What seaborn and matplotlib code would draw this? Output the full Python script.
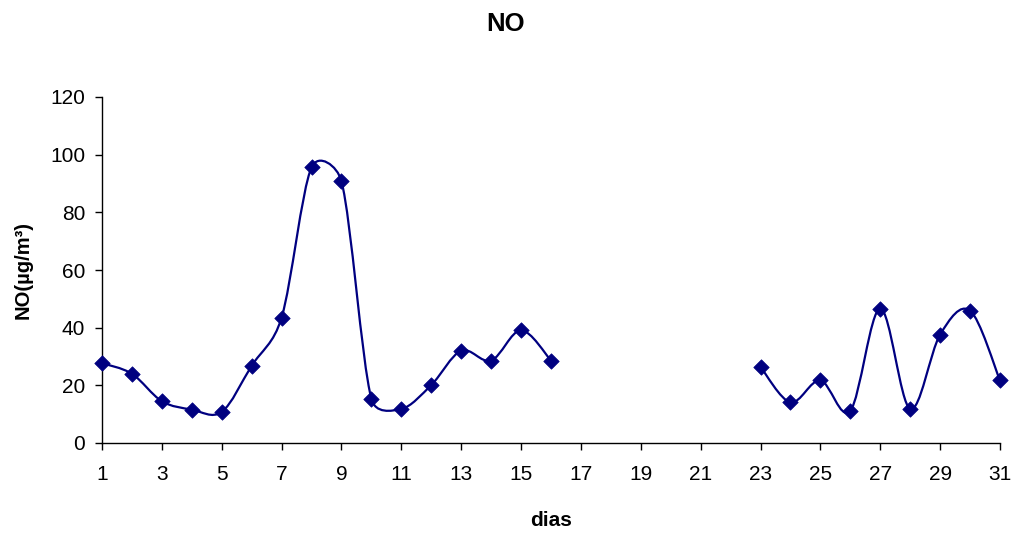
import numpy as np
import pandas as pd
import matplotlib
matplotlib.use("Agg")
import matplotlib.pyplot as plt
from matplotlib.path import Path
from matplotlib.patches import PathPatch
import seaborn as sns

# ---- data ----
days = list(range(1, 32))
no_values = [27.7, 24.0, 14.5, 11.6, 10.8, 26.8, 43.5, 95.6, 90.8, 15.3,
             11.8, 20.1, 32.0, 28.6, 39.1, 28.6,
             None, None, None, None, None, None,
             26.4, 14.1, 21.7, 11.2, 46.6, 11.8, 37.6, 45.9, 21.7]
x_ticks = list(range(1, 32, 2))
y_ticks = [0, 20, 40, 60, 80, 100, 120]
title = "NO"
x_label = "dias"
y_label = "NO(µg/m³)"

color = "#000080"

sns.set_style("white")
plt.rcParams["font.family"] = ["Liberation Sans", "DejaVu Sans"]
plt.rcParams["text.color"] = "black"
plt.rcParams["axes.labelcolor"] = "black"

df = pd.DataFrame({"dia": days, "NO": [np.nan if v is None else v for v in no_values]})

fig = plt.figure(figsize=(10.12, 5.33), dpi=100)
ax = fig.add_axes([102 / 1012, 1 - 443 / 533, (1000 - 102) / 1012, (443 - 97) / 533])
ax.set_xlim(1, 31)
ax.set_ylim(0, 120)

# split into contiguous segments
segments = []
cur = []
for d, v in zip(df["dia"], df["NO"]):
    if np.isnan(v):
        if cur:
            segments.append(cur)
        cur = []
    else:
        cur.append((d, v))
if cur:
    segments.append(cur)

# smoothed line (Bezier, Excel-like), computed in display space
fig.canvas.draw()
to_px = ax.transData
to_data = ax.transData.inverted()
for seg in segments:
    P = to_px.transform(np.array(seg, dtype=float))
    n = len(P)
    verts = [P[0]]
    codes = [Path.MOVETO]
    for i in range(n - 1):
        p0 = P[i - 1] if i > 0 else P[i]
        p1 = P[i]
        p2 = P[i + 1]
        p3 = P[i + 2] if i + 2 < n else P[i + 1]
        half = np.linalg.norm(p2 - p1) / 2
        t1 = (p2 - p0) / 6
        l1 = np.linalg.norm(t1)
        if l1 > half and l1 > 0:
            t1 = t1 * half / l1
        t2 = (p3 - p1) / 6
        l2 = np.linalg.norm(t2)
        if l2 > half and l2 > 0:
            t2 = t2 * half / l2
        verts += [p1 + t1, p2 - t2, p2]
        codes += [Path.CURVE4] * 3
    verts_data = to_data.transform(np.array(verts))
    patch = PathPatch(Path(verts_data, codes), facecolor="none", edgecolor=color,
                      lw=1.6, transform=ax.transData, zorder=2, clip_on=False)
    ax.add_patch(patch)

sns.scatterplot(data=df.dropna(), x="dia", y="NO", marker="D", s=62, color=color,
                edgecolor=color, linewidth=0.5, ax=ax, zorder=3, clip_on=False)

ax.set_xticks(x_ticks)
ax.set_yticks(y_ticks)
ax.tick_params(axis="both", labelsize=15, colors="black", labelcolor="black",
               length=5, width=1, direction="out", bottom=True, left=True)
ax.tick_params(axis="y", pad=7)
ax.tick_params(axis="x", pad=11)
for s in ["top", "right"]:
    ax.spines[s].set_visible(False)
for s in ["left", "bottom"]:
    ax.spines[s].set_color("black")
    ax.spines[s].set_linewidth(1)

ax.set_xlabel(x_label, fontsize=15, fontweight="bold", labelpad=19, color="black")
ax.set_ylabel(y_label, fontsize=14.5, fontweight="bold", labelpad=13, color="black")
fig.text(0.5, 1 - 24 / 533, title, fontsize=18.5, fontweight="bold", ha="center",
         va="center", color="black")

fig.savefig("out.png", dpi=100)
